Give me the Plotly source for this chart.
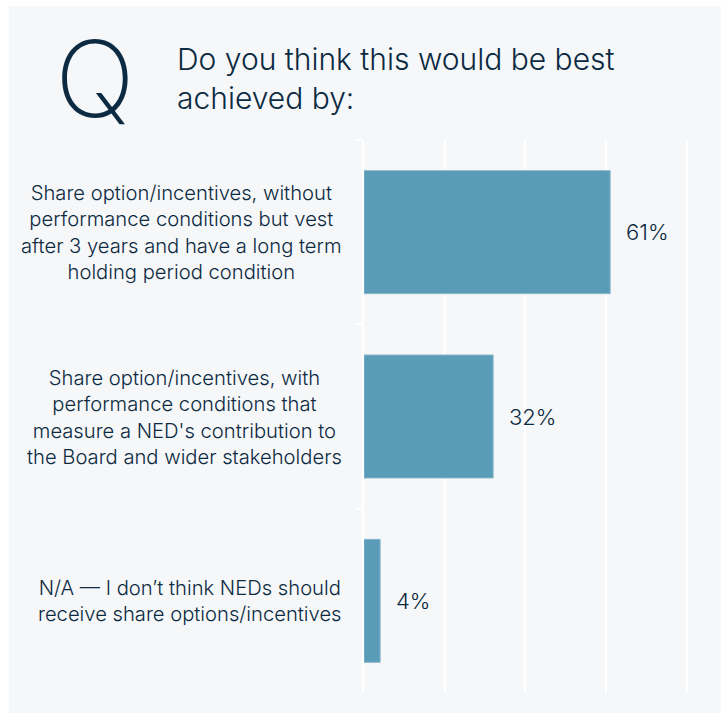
import plotly.graph_objects as go

# Survey responses
categories = [
    "Share option/incentives, without<br>performance conditions but vest<br>after 3 years and have a long term<br>holding period condition",
    "Share option/incentives, with<br>performance conditions that<br>measure a NED's contribution to<br>the Board and wider stakeholders",
    "N/A — I don’t think NEDs should<br>receive share options/incentives",
]
values = [61, 32, 4]
value_labels = ["61%", "32%", "4%"]
question = "Do you think this would be best<br>achieved by:"

W, H = 721, 713
L, R, T, B = 364, 14, 140, 20
XMAX = 85
PW = W - L - R
PH = H - T - B

NAVY = "#0c2a41"
BAR = "#5a9cb7"
PANEL = "#f5f7f9"
FONT = "Inter"


def px_x(px):
    return (px - L) / PW


def px_y(py):
    return (H - B - py) / PH


fig = go.Figure(
    go.Bar(
        x=values,
        y=categories,
        orientation="h",
        marker=dict(color=BAR, line=dict(color="#86b6ca", width=1)),
        width=0.667,
        hoverinfo="skip",
    )
)

annotations = []
# value labels just past each bar end
for cat, v, lab in zip(categories, values, value_labels):
    annotations.append(dict(
        x=v, y=cat, xref="x", yref="y", text=lab, showarrow=False,
        xanchor="left", yanchor="middle", xshift=14,
        font=dict(family=FONT, size=22, color=NAVY, weight=300),
    ))
# category labels: right-anchored block, lines centred within it
for cat in categories:
    annotations.append(dict(
        x=px_x(344), y=cat, xref="paper", yref="y", text=cat, showarrow=False,
        xanchor="right", yanchor="middle", align="center",
        font=dict(family=FONT, size=20.2, color=NAVY, weight=300),
    ))
# big "Q" glyph and question heading
annotations.append(dict(
    x=px_x(53), y=px_y(79), xref="paper", yref="paper", text="Q",
    showarrow=False, xanchor="left", yanchor="middle",
    font=dict(family=FONT, size=106, color=NAVY, weight=200),
))
annotations.append(dict(
    x=px_x(175), y=px_y(79), xref="paper", yref="paper", text=question,
    showarrow=False, xanchor="left", yanchor="middle", align="left",
    font=dict(family=FONT, size=30, color=NAVY, weight=300),
))

fig.update_layout(
    width=W, height=H,
    margin=dict(l=L, r=R, t=T, b=B, pad=0),
    paper_bgcolor="white",
    plot_bgcolor="rgba(0,0,0,0)",
    showlegend=False,
    bargap=0.333,
    annotations=annotations,
    shapes=[dict(
        type="rect", xref="paper", yref="paper", layer="below",
        x0=px_x(9), x1=px_x(W + 2), y0=px_y(6), y1=px_y(H + 2),
        fillcolor=PANEL, line=dict(width=0),
    )],
    xaxis=dict(
        range=[0, XMAX], tickvals=[0, 20, 40, 60, 80], showticklabels=False,
        showgrid=True, gridcolor="white", gridwidth=2, zeroline=False,
        fixedrange=True,
    ),
    yaxis=dict(
        autorange="reversed", showticklabels=False, showgrid=False,
        showline=True, linecolor="white", linewidth=2,
        ticks="outside", tickson="boundaries", ticklen=6,
        tickcolor="white", tickwidth=2, zeroline=False,
    ),
)

fig.write_html("out.html")
